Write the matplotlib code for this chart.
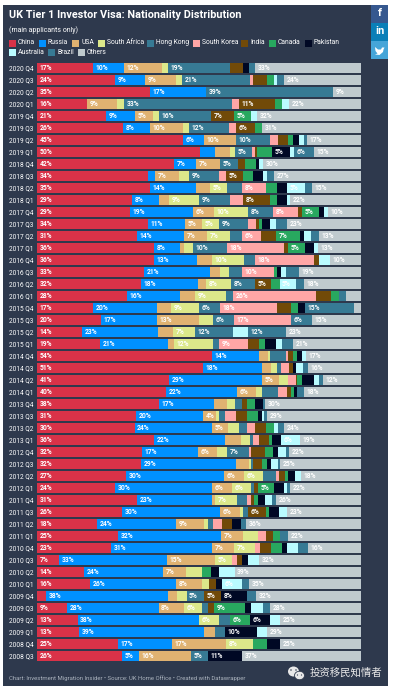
import matplotlib
matplotlib.use("Agg")
import matplotlib.pyplot as plt
from matplotlib.patches import Rectangle, Ellipse, Polygon

plt.rcParams['font.family'] = ['Roboto', 'DejaVu Sans']

series = ['China', 'Russia', 'USA', 'South Africa', 'Hong Kong', 'South Korea', 'India',
          'Canada', 'Pakistan', 'Australia', 'Brazil', 'Others']
colors = ['#d93248', '#0091ff', '#e0b271', '#dce88a', '#377a94', '#ffa6a6', '#714a08',
          '#28a85f', '#000824', '#b9fbff', '#377a94', '#bfcace']

quarters = ['2020 Q4', '2020 Q3', '2020 Q2', '2020 Q1', '2019 Q4', '2019 Q3', '2019 Q2', '2019 Q1',
            '2018 Q4', '2018 Q3', '2018 Q2', '2018 Q1', '2017 Q4', '2017 Q3', '2017 Q2', '2017 Q1',
            '2016 Q4', '2016 Q3', '2016 Q2', '2016 Q1', '2015 Q4', '2015 Q3', '2015 Q2', '2015 Q1',
            '2014 Q4', '2014 Q3', '2014 Q2', '2014 Q1', '2013 Q4', '2013 Q3', '2013 Q2', '2013 Q1',
            '2012 Q4', '2012 Q3', '2012 Q2', '2012 Q1', '2011 Q4', '2011 Q3', '2011 Q2', '2011 Q1',
            '2010 Q4', '2010 Q3', '2010 Q2', '2010 Q1', '2009 Q4', '2009 Q3', '2009 Q2', '2009 Q1',
            '2008 Q4', '2008 Q3']

# order of each list: same as `series`
q2020_4 = [17.3, 9.6, 11.7, 1.9, 19.1, 0, 4.0, 0, 1.9, 0, 1.9, 32.7]
q2020_3 = [24.1, 9.3, 9.4, 1.9, 21.0, 0.9, 4.3, 2.2, 0, 0.9, 2.2, 23.8]
q2020_2 = [34.9, 17.3, 0, 0, 39.2, 0, 0, 0, 0, 0, 0, 8.6]
q2020_1 = [15.6, 0, 9.0, 2.2, 33.4, 2.2, 11.1, 2.2, 0, 2.2, 0, 22.2]
q2019_4 = [21.3, 9.0, 5.4, 1.9, 16.0, 0, 7.1, 5.2, 0, 1.9, 0, 32.1]
q2019_3 = [26.5, 8.3, 10.2, 1.9, 12.3, 2.2, 5.9, 2.2, 0, 0, 0, 30.6]
q2019_2 = [45.0, 6.4, 9.9, 0, 10.5, 2.5, 3.1, 1.5, 1.9, 1.5, 0.9, 16.7]
q2019_1 = [50.3, 4.6, 4.6, 1.5, 5.2, 0.9, 0.6, 4.6, 5.4, 1.5, 5.9, 14.6]
q2018_4 = [42.3, 6.8, 7.4, 0, 5.4, 0, 2.2, 3.4, 0.9, 1.2, 0, 30.2]
q2018_3 = [34.3, 2.2, 7.4, 3.1, 9.3, 2.2, 5.2, 3.1, 3.1, 1.2, 2.2, 26.9]
q2018_2 = [34.9, 14.2, 4.3, 5.2, 4.6, 7.6, 0, 3.4, 3.1, 5.4, 2.2, 15.1]
q2018_1 = [29.3, 8.3, 3.1, 9.3, 9.4, 4.0, 8.3, 2.2, 3.1, 0.9, 0, 21.9]
q2017_4 = [28.7, 19.4, 6.5, 10.5, 7.7, 7.7, 1.2, 5.2, 1.5, 1.2, 0, 10.2]
q2017_3 = [34.3, 11.4, 5.2, 5.2, 9.0, 2.5, 0.9, 0.9, 2.5, 1.9, 3.4, 22.8]
q2017_2 = [30.9, 14.5, 7.1, 7.1, 3.7, 5.9, 4.6, 7.4, 1.2, 2.2, 2.5, 13.0]
q2017_1 = [36.1, 8.0, 1.2, 2.8, 10.5, 17.6, 1.2, 5.2, 2.8, 1.2, 0, 13.3]
q2016_4 = [36.1, 13.3, 4.6, 9.9, 3.4, 18.2, 1.5, 0, 0, 3.4, 0, 9.6]
q2016_3 = [33.0, 20.6, 2.8, 2.8, 4.0, 9.9, 0, 1.2, 1.2, 1.5, 4.0, 19.1]
q2016_2 = [32.4, 17.6, 2.5, 7.7, 7.6, 0, 5.0, 2.5, 0, 5.2, 2.5, 17.6]
q2016_1 = [27.8, 16.4, 4.6, 9.4, 2.2, 25.6, 4.6, 2.5, 0, 0, 2.2, 4.6]
q2015_4 = [17.3, 19.8, 4.3, 8.6, 6.5, 17.6, 4.3, 2.2, 2.2, 0, 15.1, 2.2]
q2015_3 = [19.6, 17.4, 13.0, 4.3, 6.5, 17.4, 0, 0, 0, 0, 6.5, 15.1]
q2015_2 = [13.9, 23.4, 4.6, 6.8, 11.7, 0, 0, 0, 0, 4.6, 11.7, 23.1]
q2015_1 = [19.4, 21.0, 1.9, 12.0, 1.9, 9.0, 3.4, 1.9, 3.4, 1.9, 3.4, 21.0]
q2014_4 = [54.0, 14.5, 2.8, 0.6, 4.9, 0.6, 1.5, 1.2, 1.5, 1.2, 0, 17.0]
q2014_3 = [51.2, 18.2, 2.8, 1.9, 1.2, 2.5, 1.2, 0, 0.9, 2.2, 1.5, 16.4]
q2014_2 = [40.7, 28.7, 5.2, 2.8, 0, 2.5, 0.3, 1.5, 3.7, 1.5, 1.2, 11.7]
q2014_1 = [39.8, 21.9, 5.9, 1.9, 4.9, 2.8, 1.2, 0.9, 0.9, 0, 2.2, 17.6]
q2013_4 = [37.7, 17.0, 4.0, 2.5, 2.2, 0, 1.5, 2.5, 2.5, 0, 0.6, 29.6]
q2013_3 = [30.6, 20.4, 4.0, 0.9, 1.9, 3.4, 3.4, 3.4, 1.2, 0.6, 0.9, 29.0]
q2013_2 = [30.2, 23.8, 5.0, 3.4, 2.5, 2.5, 3.4, 2.5, 0, 1.2, 1.9, 23.8]
q2013_1 = [36.1, 21.9, 4.9, 2.8, 0.9, 1.9, 3.1, 0.9, 2.8, 5.9, 0, 18.8]
q2012_4 = [32.4, 17.3, 5.9, 3.1, 6.8, 0.6, 4.3, 2.5, 1.5, 2.5, 0.9, 22.2]
q2012_3 = [32.1, 29.3, 4.0, 0.6, 0.6, 0, 2.8, 1.5, 1.2, 2.2, 0.6, 25.0]
q2012_2 = [27.4, 30.4, 5.9, 5.9, 4.0, 0.9, 1.9, 0.9, 2.2, 1.9, 0, 18.5]
q2012_1 = [24.1, 29.9, 6.2, 5.9, 0.9, 0, 1.2, 5.0, 3.1, 0.9, 0.9, 21.9]
q2011_4 = [30.9, 23.1, 0.9, 6.8, 3.1, 1.2, 0.9, 1.2, 2.2, 2.2, 1.2, 26.2]
q2011_3 = [26.2, 30.2, 6.2, 0.9, 1.5, 0, 5.6, 0.9, 3.1, 2.5, 0, 22.8]
q2011_2 = [18.5, 24.4, 8.6, 1.2, 1.5, 2.8, 3.1, 0, 2.8, 0, 1.5, 35.5]
q2011_1 = [25.0, 31.8, 6.8, 4.6, 0, 2.5, 2.2, 2.2, 0, 0, 2.5, 22.5]
q2010_4 = [22.8, 31.2, 6.8, 6.6, 0, 1.5, 3.4, 3.4, 1.5, 3.4, 3.1, 16.4]
q2010_3 = [6.8, 33.3, 14.8, 5.2, 0, 1.5, 1.5, 0, 1.9, 3.4, 0, 31.5]
q2010_2 = [14.5, 24.4, 7.1, 4.9, 0, 0, 0, 2.5, 2.5, 4.9, 0, 38.9]
q2010_1 = [16.4, 26.5, 8.0, 2.2, 0, 0, 2.2, 0, 1.9, 6.2, 2.2, 34.6]
q2009_4 = [2.8, 37.7, 2.8, 2.8, 5.4, 0, 5.2, 0, 8.0, 0, 2.8, 32.4]
q2009_3 = [9.4, 28.1, 7.7, 5.6, 1.9, 0, 1.9, 9.4, 1.9, 3.7, 2.2, 28.1]
q2009_2 = [12.6, 37.7, 0, 6.2, 3.4, 0, 0, 6.2, 6.2, 3.1, 0, 25.0]
q2009_1 = [13.0, 38.6, 3.4, 0, 3.1, 0, 0, 0, 9.9, 3.1, 0, 29.0]
q2008_4 = [25.0, 16.7, 16.7, 8.3, 0, 0, 0, 4.3, 4.0, 0, 0, 25.0]
q2008_3 = [26.2, 5.2, 16.0, 0, 5.2, 0, 0, 0, 10.6, 0, 0, 36.7]

rows = [q2020_4, q2020_3, q2020_2, q2020_1, q2019_4, q2019_3, q2019_2, q2019_1,
        q2018_4, q2018_3, q2018_2, q2018_1, q2017_4, q2017_3, q2017_2, q2017_1,
        q2016_4, q2016_3, q2016_2, q2016_1, q2015_4, q2015_3, q2015_2, q2015_1,
        q2014_4, q2014_3, q2014_2, q2014_1, q2013_4, q2013_3, q2013_2, q2013_1,
        q2012_4, q2012_3, q2012_2, q2012_1, q2011_4, q2011_3, q2011_2, q2011_1,
        q2010_4, q2010_3, q2010_2, q2010_1, q2009_4, q2009_3, q2009_2, q2009_1,
        q2008_4, q2008_3]

# a small segment that still carries a printed label
small_labelled = [('2013 Q3', 'USA')]

W, H = 393, 692
fig = plt.figure(figsize=(W / 100, H / 100), dpi=100, facecolor='white')

# full-figure layer in pixel units for the page furniture
bg = fig.add_axes([0, 0, 1, 1])
bg.set_xlim(0, W)
bg.set_ylim(H, 0)
bg.axis('off')

PANEL = '#2e394d'
bg.add_patch(Rectangle((3, 5), 385, 681, fc=PANEL, ec='none'))
bg.add_patch(Rectangle((371, 5), 17, 18, fc='#36588f', ec='none'))
bg.add_patch(Rectangle((371, 23), 17, 18, fc='#0a7fb8', ec='none'))
bg.add_patch(Rectangle((371, 41), 17, 18, fc='#45a5d8', ec='none'))
bg.text(379.5, 13, 'f', color='white', fontsize=8, fontweight='bold', ha='center', va='center')
bg.text(379.5, 31.5, 'in', color='white', fontsize=8, fontweight='bold', ha='center', va='center')
bg.add_patch(Polygon([(375, 47), (378, 49.5), (381, 49.5), (382, 47.5), (384.5, 47.5), (383.5, 49.5),
                      (383, 52), (379.5, 55), (375, 54.5), (377.5, 53.5), (375.5, 51)],
                     closed=True, fc='white', ec='none'))

bg.text(9, 14.5, 'UK Tier 1 Investor Visa: Nationality Distribution', color='white',
        fontsize=7.85, fontweight='bold', va='center', ha='left')
bg.text(9, 30, '(main applicants only)', color='white', fontsize=5.05, va='center', ha='left')

legend_pos = [(9, 43), (39, 43), (72, 43), (98, 43), (147, 43), (193, 43), (241, 43), (269, 43), (305, 43),
              (9, 52), (48, 52), (78, 52)]
for name, col, (lx, ly) in zip(series, colors, legend_pos):
    bg.add_patch(Rectangle((lx, ly - 3.5), 7, 7, fc=col, ec='none'))
    bg.text(lx + 9, ly, name, color='white', fontsize=4.85, va='center', ha='left')

bg.text(9, 678, 'Chart: Investment Migration Insider • Source: UK Home Office • Created with Datawrapper',
        color='#aab2bd', fontsize=4.3, va='center', ha='left')

# watermark
bg.add_patch(Ellipse((293.5, 671.5), 11, 10, fc='#e8e8e8', ec='none'))
bg.add_patch(Ellipse((299.5, 675.5), 10, 8.5, fc='#e8e8e8', ec=PANEL, lw=0.6))
for ex, ey in [(291, 670), (296, 670)]:
    bg.add_patch(Ellipse((ex, ey), 1.5, 1.5, fc=PANEL, ec='none'))
for ex, ey in [(297.5, 675), (301.5, 675)]:
    bg.add_patch(Ellipse((ex, ey), 1.2, 1.2, fc=PANEL, ec='none'))
bg.text(310, 673, '投资移民知情者', color='#e8e8e8', fontsize=7.5, va='center', ha='left',
        family=['Noto Sans CJK SC', 'DejaVu Sans'])

# chart axes
ax = fig.add_axes([37 / W, 1 - 662 / H, 324 / W, 600 / H])
ax.patch.set_alpha(0)
ax.set_xlim(0, 100)
ax.set_ylim(len(quarters) - 0.5, -0.5)
for s in ax.spines.values():
    s.set_visible(False)
ax.set_xticks([])
ax.set_yticks(range(len(quarters)))
ax.set_yticklabels(quarters, color='white', fontsize=4.7, ha='left')
ax.tick_params(axis='y', length=0, pad=20.2)

for i, (q, row) in enumerate(zip(quarters, rows)):
    scale = 100 / sum(row)
    left = 0
    for name, col, v in zip(series, colors, row):
        if v == 0:
            continue
        w = v * scale
        ax.barh(i, w, left=left, height=10 / 12, color=col, linewidth=0)
        if v >= 5 or (q, name) in small_labelled:
            ax.text(left + 0.8, i + 0.02, f'{v:.0f}%', color='white', fontsize=4.9,
                    fontweight='bold', va='center', ha='left')
        left += w

fig.savefig('out.png', dpi=100, facecolor='white')
